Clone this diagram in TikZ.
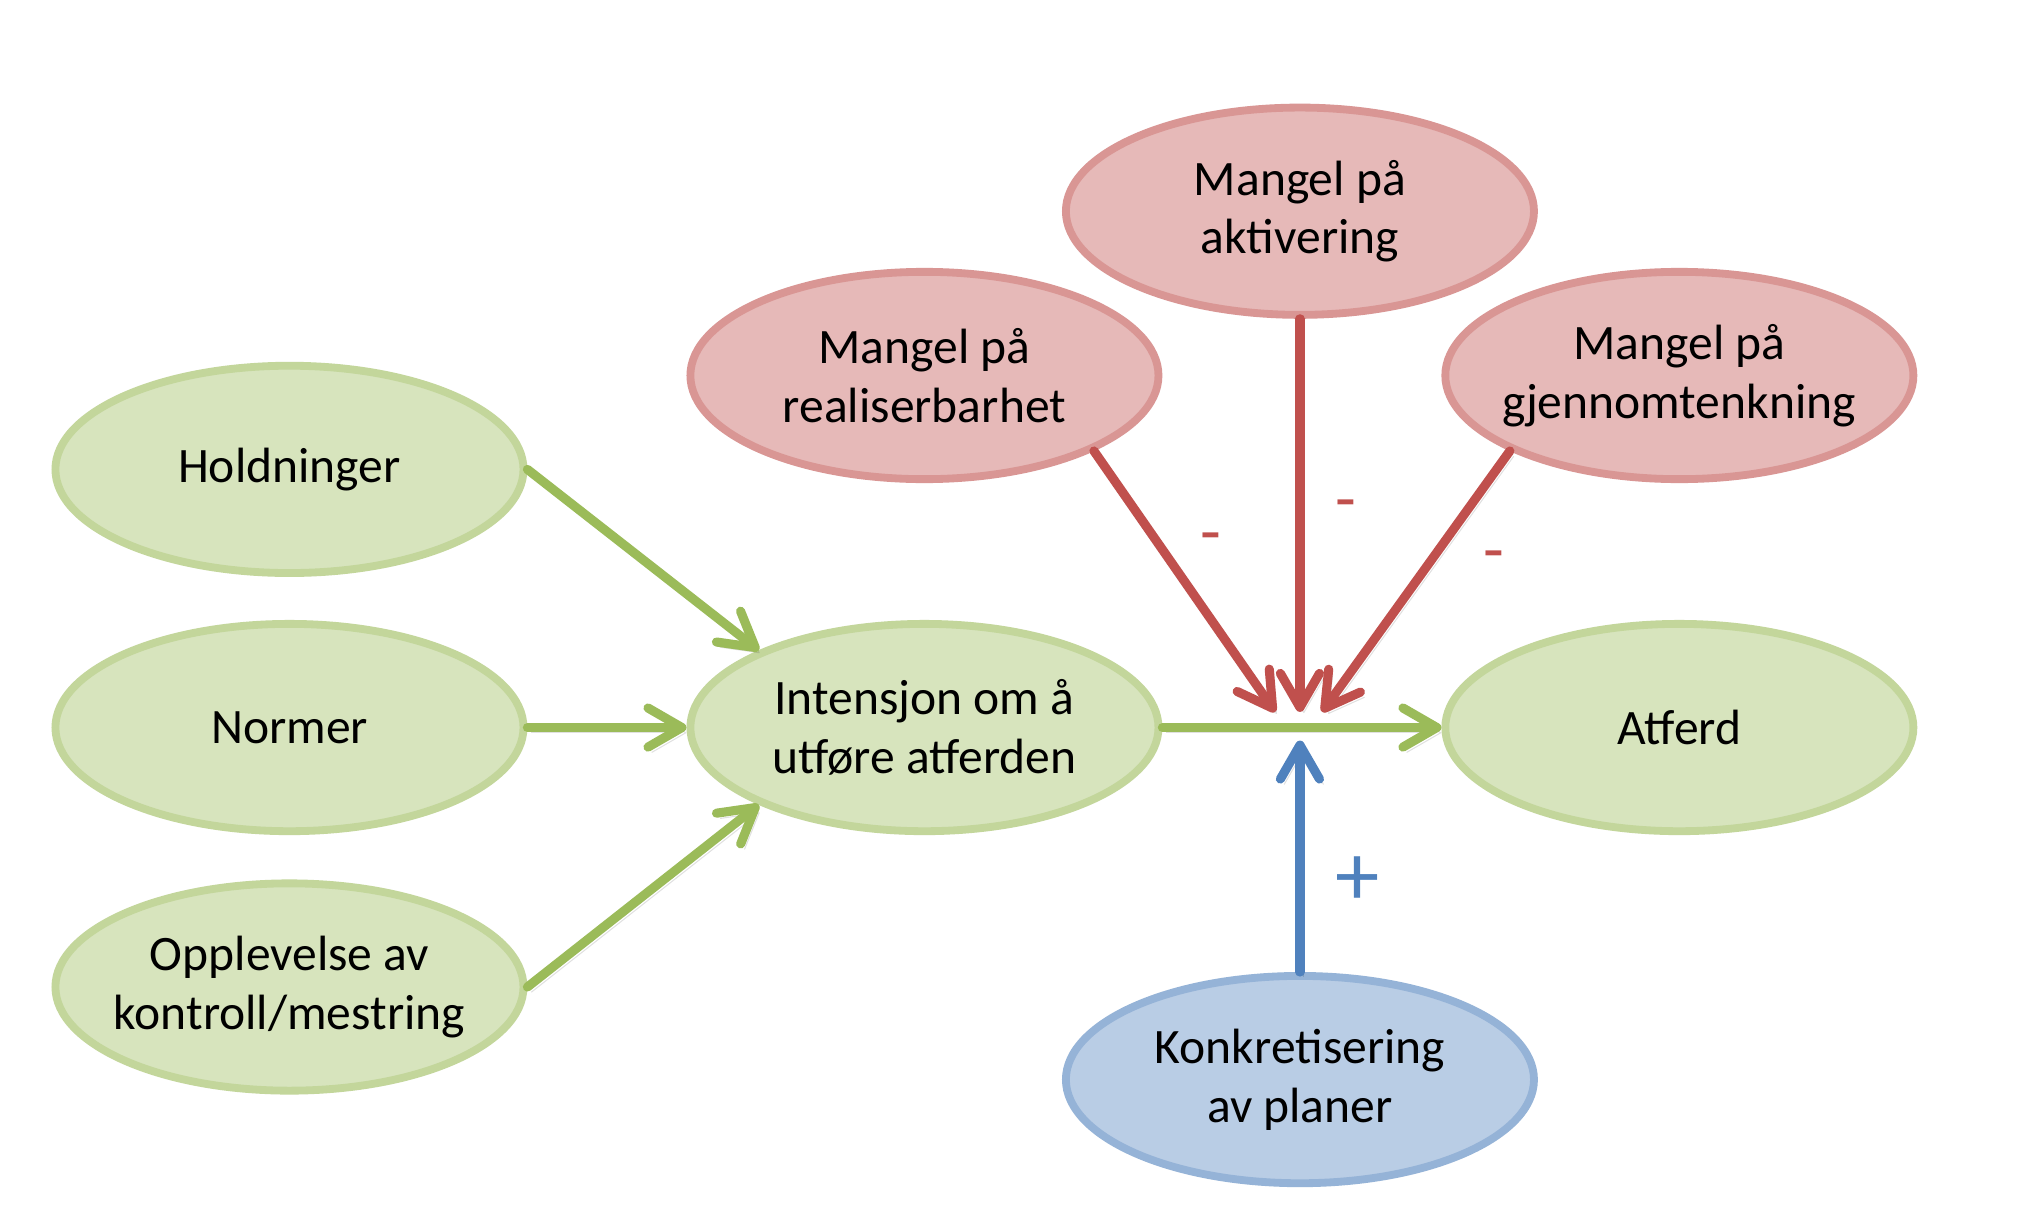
\documentclass[tikz,border=0pt]{standalone}
\usepackage{fontspec}
\setmainfont{Carlito}
\usetikzlibrary{shapes.geometric,arrows.meta}
\definecolor{gfill}{HTML}{D7E4BD}
\definecolor{gdraw}{HTML}{C3D69B}
\definecolor{garrow}{HTML}{9BBB59}
\definecolor{rfill}{HTML}{E6B9B8}
\definecolor{rdraw}{HTML}{D99694}
\definecolor{rarrow}{HTML}{C0504D}
\definecolor{bfill}{HTML}{B9CDE5}
\definecolor{bdraw}{HTML}{95B3D7}
\definecolor{barrow}{HTML}{4F81BD}
\tikzset{
  oval/.style={ellipse, minimum width=179.5pt, minimum height=79.5pt, inner xsep=-25pt, inner ysep=0pt,
    line width=3pt, align=center, font=\fontsize{19}{22.5}\selectfont},
  goval/.style={oval, draw=gdraw, fill=gfill},
  roval/.style={oval, draw=rdraw, fill=rfill},
  boval/.style={oval, draw=bdraw, fill=bfill},
  conn/.style={line width=3.5pt, line cap=round,
    -{Straight Barb[length=13pt,width=15pt,round]},
    preaction={draw=black, opacity=0.12, transform canvas={shift={(1.5pt,-2pt)}}}},
  garr/.style={conn, draw=garrow},
  rarr/.style={conn, draw=rarrow},
  barr/.style={conn, draw=barrow},
  sign/.style={inner sep=0pt, anchor=center}
}
\begin{document}
\begin{tikzpicture}[x=0.5pt,y=-0.5pt]
\useasboundingbox[fill=white] (0,0) rectangle (1560,930);
\node[goval] (hold) at (222,360) {Holdninger};
\node[goval] (norm) at (222,558) {Normer};
\node[goval] (opp)  at (222,757) {Opplevelse av\\kontroll/mestring};
\node[goval] (int)  at (709,558) {Intensjon om å\\utføre atferden};
\node[goval] (atf)  at (1288,558) {Atferd};
\node[roval] (mr)   at (709,288) {Mangel på\\realiserbarhet};
\node[roval] (ma)   at (997,162) {Mangel på\\aktivering};
\node[roval] (mg)   at (1288,288) {Mangel på\\gjennomtenkning};
\node[boval] (konk) at (997,828) {Konkretisering\\av planer};
\coordinate (tl) at (978,546);
\coordinate (tm) at (997,546);
\coordinate (tr) at (1014,546);
\coordinate (tb) at (997,568);
\draw[garr] (hold.east) -- (int.155);
\draw[garr] (norm.east) -- (int.west);
\draw[garr] (opp.east) -- (int.205);
\draw[garr] (int.east) -- (atf.west);
\draw[rarr] (mr.-24) -- (tl);
\draw[rarr] (ma.south) -- (tm);
\draw[rarr] (mg.204) -- (tr);
\draw[barr] (konk.north) -- (tb);
\node[sign, text=rarrow, font=\fontsize{26}{30}\selectfont] (s1) at (929,417) {-};
\node[sign, text=rarrow, font=\fontsize{26}{30}\selectfont] (s2) at (1032,392) {-};
\node[sign, text=rarrow, font=\fontsize{26}{30}\selectfont] (s3) at (1146,431) {-};
\node[sign, text=barrow, font=\fontsize{34}{40}\selectfont] (s4) at (1041,676) {+};
\end{tikzpicture}
\end{document}
